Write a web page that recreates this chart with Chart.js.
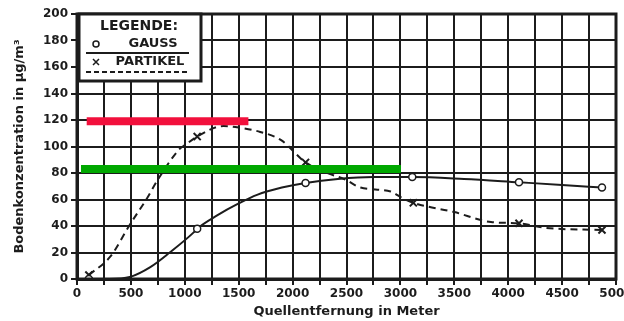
<!DOCTYPE html>
<html>
<head>
<meta charset="utf-8">
<script src="https://cdn.jsdelivr.net/npm/chart.js@4/dist/chart.umd.min.js"></script>
<style>
html,body{margin:0;padding:0;background:#fff;overflow:hidden;width:624px;height:321px;}
#wrap{width:640px;height:321px;}
</style>
</head>
<body>
<div id="wrap"><canvas id="c" width="640" height="321"></canvas></div>
<script>
// ---- data ----
const xTickValues = [0, 500, 1000, 1500, 2000, 2500, 3000, 3500, 4000, 4500, 5000];
const yTickValues = [0, 20, 40, 60, 80, 100, 120, 140, 160, 180, 200];

const gaussX = [110, 300, 490, 680, 860, 1080, 1115, 1300, 1500, 1670, 1900, 2120, 2420, 2750, 3110, 3590, 4100, 4500, 4870];
const gaussY = [0, 0, 1.5, 9, 20, 35, 38, 48, 57, 63.5, 69, 72.5, 75.5, 77, 77, 75.5, 73, 71, 69];
const gaussMarkX = [110, 1115, 2120, 3110, 4100, 4870];
const gaussMarkY = [0, 38, 72.5, 77, 73, 69];

const partikelX = [110, 310, 490, 650, 750, 950, 1000, 1115, 1360, 1520, 1700, 1890, 2120, 2290, 2490, 2630, 2910, 3020, 3120, 3500, 3840, 4100, 4350, 4870];
const partikelY = [3, 17, 41, 61, 75, 98, 101, 107.5, 115.5, 114, 111, 105, 88, 81, 75, 69, 66, 61, 57.5, 50.5, 43, 42, 38.6, 37];
const partikelMarkX = [110, 1115, 2120, 3120, 4100, 4870];
const partikelMarkY = [3, 107.5, 88, 57.5, 42, 37];

const redBarX = [90, 1590];
const redBarY = 119;
const greenBarX = [37, 3005];
const greenBarY = 83;

const legendTitle = 'LEGENDE:';
const legendGauss = 'GAUSS';
const legendPartikel = 'PARTIKEL';
const xTitle = 'Quellentfernung in Meter';
const yTitle = 'Bodenkonzentration in µg/m³';

// ---- build ----
const pts = (xs, ys) => xs.map((x, i) => ({x: x, y: Array.isArray(ys) ? ys[i] : ys}));
const INK = '#1c1c1c';
const FONT = "'DejaVu Sans', sans-serif";

const frameLegend = {
  id: 'frameLegend',
  afterDraw(chart) {
    const ctx = chart.ctx, a = chart.chartArea;
    ctx.save();
    ctx.strokeStyle = INK;
    ctx.lineWidth = 3;
    ctx.strokeRect(a.left, a.top, a.right - a.left, a.bottom - a.top);
    // legend box
    const bx = 79, by = 14, bw = 122, bh = 67;
    ctx.fillStyle = '#fff';
    ctx.fillRect(bx, by, bw, bh);
    ctx.lineWidth = 3;
    ctx.strokeRect(bx, by, bw, bh);
    ctx.fillStyle = INK;
    ctx.textBaseline = 'middle';
    ctx.textAlign = 'center';
    ctx.font = "bold 14px " + FONT;
    ctx.fillText(legendTitle, 139, 26);
    ctx.font = "bold 13px " + FONT;
    ctx.fillText(legendGauss, 153, 44);
    ctx.fillText(legendPartikel, 150, 62);
    // circle symbol
    ctx.lineWidth = 1.5;
    ctx.beginPath();
    ctx.arc(96, 44, 3, 0, Math.PI * 2);
    ctx.stroke();
    // cross symbol
    ctx.beginPath();
    ctx.moveTo(93, 59); ctx.lineTo(99, 65);
    ctx.moveTo(99, 59); ctx.lineTo(93, 65);
    ctx.stroke();
    // solid line
    ctx.lineWidth = 2;
    ctx.beginPath();
    ctx.moveTo(86, 53); ctx.lineTo(189, 53);
    ctx.stroke();
    // dashed line
    ctx.setLineDash([5, 3]);
    ctx.beginPath();
    ctx.moveTo(86, 72); ctx.lineTo(189, 72);
    ctx.stroke();
    ctx.restore();
  }
};

new Chart(document.getElementById('c'), {
  type: 'line',
  data: {
    datasets: [
      {data: pts(redBarX, redBarY), borderColor: '#f2103c', borderWidth: 8, pointRadius: 0, tension: 0},
      {data: pts(greenBarX, greenBarY), borderColor: '#00a800', borderWidth: 8, pointRadius: 0, tension: 0},
      {data: pts(gaussMarkX, gaussMarkY), showLine: false, pointStyle: 'circle', pointRadius: 3.5,
        pointBorderWidth: 1.5, pointBorderColor: INK, pointBackgroundColor: '#fff'},
      {data: pts(partikelMarkX, partikelMarkY), showLine: false, pointStyle: 'crossRot', pointRadius: 5,
        pointBorderWidth: 2, pointBorderColor: INK},
      {data: pts(gaussX, gaussY), borderColor: INK, borderWidth: 2, pointRadius: 0, cubicInterpolationMode: 'monotone'},
      {data: pts(partikelX, partikelY), borderColor: INK, borderWidth: 2, borderDash: [7, 5], pointRadius: 0, cubicInterpolationMode: 'monotone'}
    ]
  },
  options: {
    responsive: false,
    animation: false,
    devicePixelRatio: 1,
    layout: {padding: {left: 0, top: 14, right: 24, bottom: 0}},
    plugins: {legend: {display: false}, tooltip: {enabled: false}},
    scales: {
      x: {
        type: 'linear', min: 0, max: 5000,
        afterFit(s) { s.height = 42; },
        afterBuildTicks(s) {
          const t = [];
          for (let v = 0; v <= 5000; v += 250) t.push({value: v});
          s.ticks = t;
        },
        ticks: {
          autoSkip: false, maxRotation: 0, padding: 2, color: INK,
          font: {family: FONT, size: 12, weight: 'bold'},
          callback: (v) => xTickValues.includes(v) ? String(v) : ''
        },
        grid: {color: INK, lineWidth: 2, tickLength: 6},
        border: {color: INK, width: 3},
        title: {display: true, text: xTitle, color: INK, padding: {top: 0, bottom: 2},
          font: {family: FONT, size: 13, weight: 'bold'}}
      },
      y: {
        min: 0, max: 200,
        afterFit(s) { s.width = 77; },
        afterBuildTicks(s) { s.ticks = yTickValues.map(v => ({value: v})); },
        ticks: {padding: 3, color: INK, font: {family: FONT, size: 12, weight: 'bold'}},
        grid: {color: INK, lineWidth: 2, tickLength: 6},
        border: {color: INK, width: 3},
        title: {display: true, text: yTitle, color: INK, padding: {top: 12, bottom: 0},
          font: {family: FONT, size: 13, weight: 'bold'}}
      }
    }
  },
  plugins: [frameLegend]
});
</script>
</body>
</html>
